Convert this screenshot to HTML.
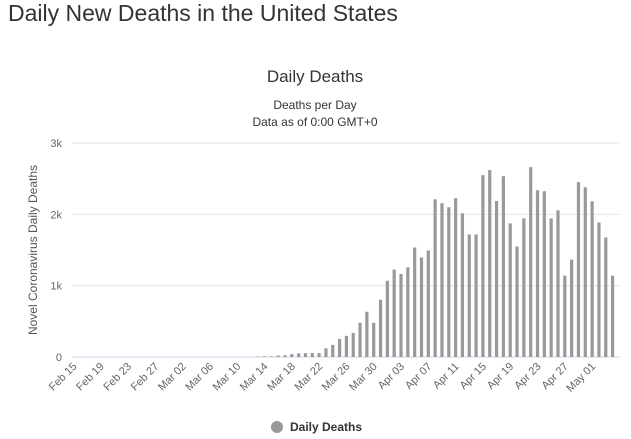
<!DOCTYPE html>
<html><head><meta charset="utf-8"><style>
body{margin:0;width:631px;height:439px;background:#fff;font-family:"Liberation Sans",sans-serif;overflow:hidden}
h1{position:absolute;left:8px;top:0;margin:0;font-weight:normal;font-size:23px;color:#333}
</style></head><body>
<h1>Daily New Deaths in the United States</h1>
<svg id="c" width="631" height="439" style="position:absolute;left:0;top:0"></svg>
<script>
const startDate = new Date(2020,1,15);
const dayCount = 80;
const deathValues = [0,0,0,0,0,0,0,0,0,0,0,0,0,0,0, 0,0,0,0,0,0,0,0,0,0,0,0,5,10,10,20,25,40,50,55,55,55,
122,170,254,296,338,479,634,479,803,1070,1225,1164,1258,1535,1394,1493,2211,2155,2099,2225,
2014,1718,1718,2549,2620,2188,2535,1873,1549,1944,2662,2338,2324,1944,2056,1141,1366,2451,2380,2183,1887,1676,1141];
const yTicks = [0,1000,2000,3000];
const yTickLabels = ["0","1k","2k","3k"];
const months = ["Jan","Feb","Mar","Apr","May"];
const NS="http://www.w3.org/2000/svg";
const svg=document.getElementById('c');
const L=70,R=616,GR=620,T=143,B=357;
const bw=(R-L)/dayCount;
const xc=i=>L+(i+0.5)*bw;
const y=v=>B-(v/3000)*(B-T);
function mk(t,a,p){const e=document.createElementNS(NS,t);for(const k in a)e.setAttribute(k,a[k]);(p||svg).appendChild(e);return e;}
let e;
e=mk('text',{x:315,y:82,'text-anchor':'middle','font-size':17,fill:'#333'});e.textContent='Daily Deaths';


e=mk('text',{x:315,y:109,'text-anchor':'middle','font-size':12,fill:'#333'});e.textContent='Deaths per Day';


e=mk('text',{x:315,y:126,'text-anchor':'middle','font-size':12,fill:'#333'});e.textContent='Data as of 0:00 GMT+0';


e=mk('text',{x:37,y:250,'text-anchor':'middle','font-size':12,fill:'#555',transform:'rotate(-90 37 250)'});e.textContent='Novel Coronavirus Daily Deaths';


yTicks.forEach((v,i)=>{
  const g=mk('line',{x1:72,x2:GR,y1:y(v),y2:y(v),stroke:i==0?'#ccd6eb':'#e6e6e6','stroke-width':1});
  
  
  const t=mk('text',{x:62,y:y(v)+4,'text-anchor':'end','font-size':11,fill:'#666'});t.textContent=yTickLabels[i];
  
  
});
deathValues.forEach((v,i)=>{
  if(v<=0)return;
  const r=mk('rect',{x:xc(i)-1.6,y:y(v),width:3.2,height:B-y(v),fill:'#999'});
  
  
});
for(let i=0;i<dayCount;i+=4){
  const d=new Date(startDate);d.setDate(d.getDate()+i);
  const lab=months[d.getMonth()]+' '+String(d.getDate()).padStart(2,'0');
  const x=xc(i)+4,yy=367;
  const t=mk('text',{x:x,y:yy,'text-anchor':'end','font-size':11,fill:'#666',transform:`rotate(-45 ${x} ${yy})`});t.textContent=lab;
  
  
}
e=mk('circle',{cx:277,cy:427,r:6,fill:'#999'});


e=mk('text',{x:290,y:431,'font-size':12,'font-weight':'bold',fill:'#333'});e.textContent='Daily Deaths';


</script>
</body></html>
